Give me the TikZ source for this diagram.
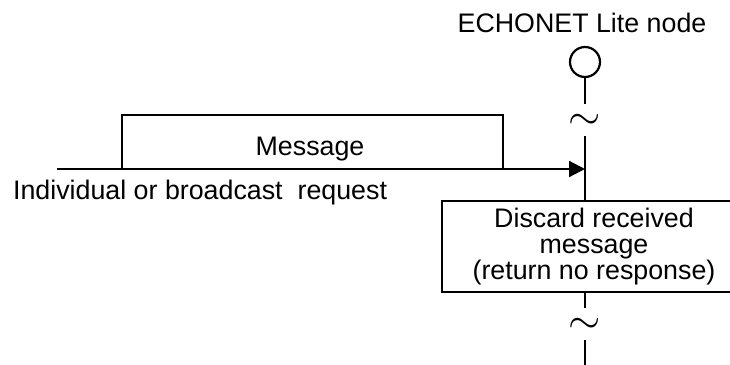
\documentclass[tikz,border=0pt]{standalone}
\usepackage{fontspec}
\setmainfont{Liberation Sans}
\usetikzlibrary{arrows.meta}
\tikzset{
  font={\fontsize{13.4pt}{13pt}\selectfont}}

\begin{document}
\begin{tikzpicture}[x=0.5pt,y=-0.5pt,line width=1.1pt,
  lbl/.style={inner sep=0pt,anchor=base},
  gap/.style={inner sep=0pt,font=\fontsize{22pt}{22pt}\selectfont},
  act/.style={draw,align=center,minimum width=152pt,minimum height=45.5pt,inner sep=0pt}]
\useasboundingbox (0,0) rectangle (730,365);
\node[lbl] (title) at (582,32) {ECHONET Lite node};
\node[draw,circle,minimum size=15pt,inner sep=0pt] (enode) at (585,62) {};
\node[gap] (gap1) at (585,122) {$\sim$};
\node[act] (discard) at (594,246.5) {Discard received\\message\\(return no response)};
\node[gap] (gap2) at (585,326) {$\sim$};
\coordinate (src) at (57,169);
\coordinate (hit) at (585,169);
\coordinate (end) at (585,366);
\draw (enode) -- (585,104);
\draw (585,136) -- (hit) -- (hit |- discard.north);
\draw (hit |- discard.south) -- (585,308);
\draw (585,340) -- (end);
\draw[-{Triangle[length=8pt,width=8pt]}] (src) -- (hit);
\draw (122,169) |- (503,115) -- (503,169);
\node[lbl] (msg) at (310,155) {Message};
\node[lbl,anchor=base west] (req) at (12,199) {Individual or broadcast\ \ request};
\end{tikzpicture}
\end{document}
